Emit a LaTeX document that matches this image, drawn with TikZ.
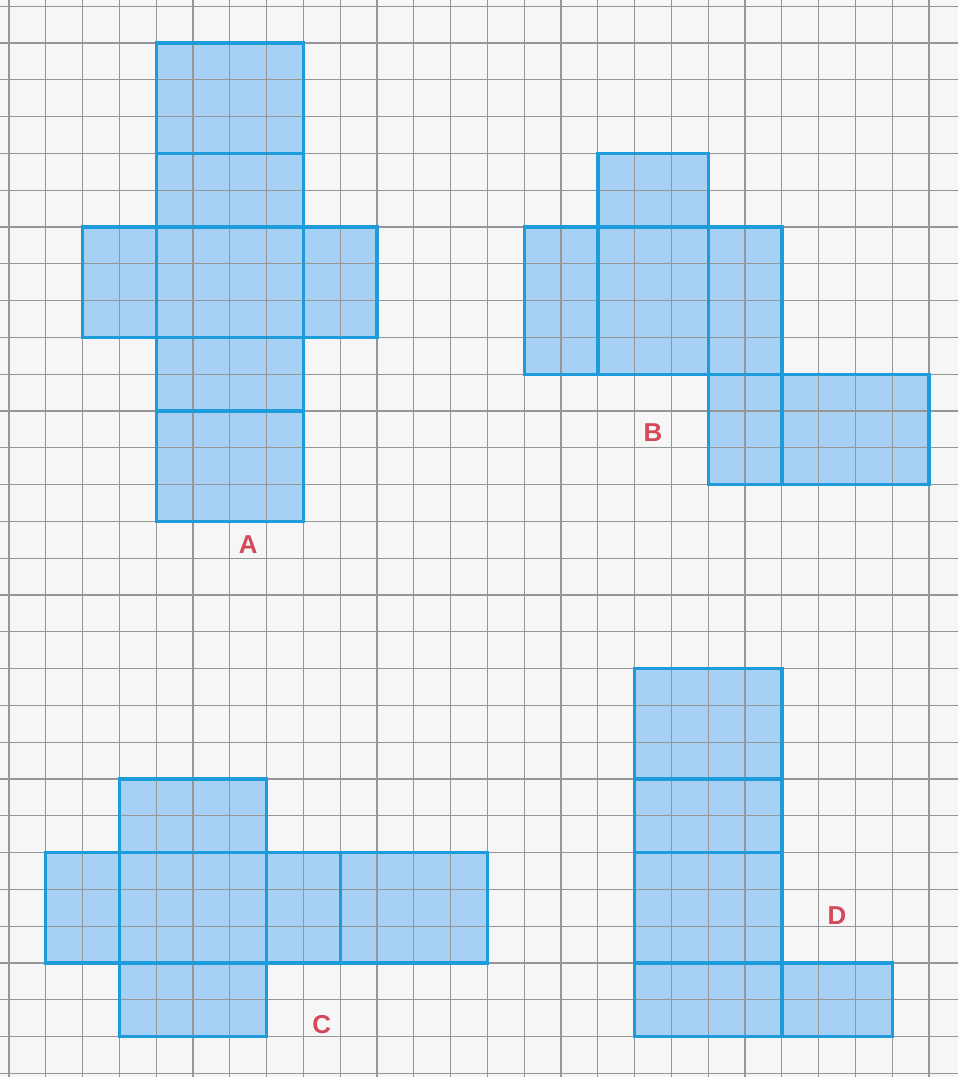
\documentclass[tikz,border=0pt]{standalone}
\usepackage{fontspec}
\setmainfont{Liberation Sans}
\usepackage{tikz}

\definecolor{paper}{HTML}{F6F6F6}
\definecolor{netfill}{HTML}{A6D1F4}
\definecolor{netline}{HTML}{1D9BDA}
\definecolor{gridgray}{HTML}{969696}
\definecolor{labelred}{HTML}{D4485A}

\tikzset{
  facefill/.style={fill=netfill},
  faceline/.style={draw=netline,line width=1.3pt,line join=miter},
  gridline/.style={draw=gridgray,line width=0.5pt},
  netlabel/.style={text=labelred,font=\fontsize{10}{12}\selectfont\bfseries}
}

% x1/y1/x2/y2 of every face, in grid cells counted from the top left
\def\netfaces{4/1/8/4, 4/4/8/6, 2/6/4/9, 4/6/8/9, 8/6/10/9, 4/9/8/11, 4/11/8/14,
  16/4/19/6, 14/6/16/10, 16/6/19/10, 19/6/21/10, 19/10/21/13, 21/10/25/13,
  3/21/7/23, 1/23/3/26, 3/23/7/26, 7/23/9/26, 9/23/13/26, 3/26/7/28,
  17/18/21/21, 17/21/21/23, 17/23/21/26, 17/26/21/28, 21/26/24/28}

\begin{document}
\begin{tikzpicture}[x=0.5cm,y=-0.5cm]

    \fill[paper] (0,0) rectangle (26.033,29.266);
    \useasboundingbox (0,0) rectangle (26.033,29.266);

    \begin{scope}[shift={(0.245,0.168)}]

        \foreach \a/\b/\c/\d in \netfaces
            \fill[facefill] (\a,\b) rectangle (\c,\d);

        \foreach \k in {0,...,25}
            \draw[gridline] (\k,-0.168) -- (\k,29.098);
        \foreach \n in {0,...,29}
            \draw[gridline] (-0.245,\n) -- (25.788,\n);

        \foreach \a/\b/\c/\d in \netfaces
            \draw[faceline] (\a,\b) rectangle (\c,\d);

        \node[netlabel] (labelA) at (6.5,14.64) {A};
        \node[netlabel] (labelB) at (17.5,11.6) {B};
        \node[netlabel] (labelC) at (8.5,27.68) {C};
        \node[netlabel] (labelD) at (22.5,24.7) {D};

    \end{scope}

\end{tikzpicture}
\end{document}
